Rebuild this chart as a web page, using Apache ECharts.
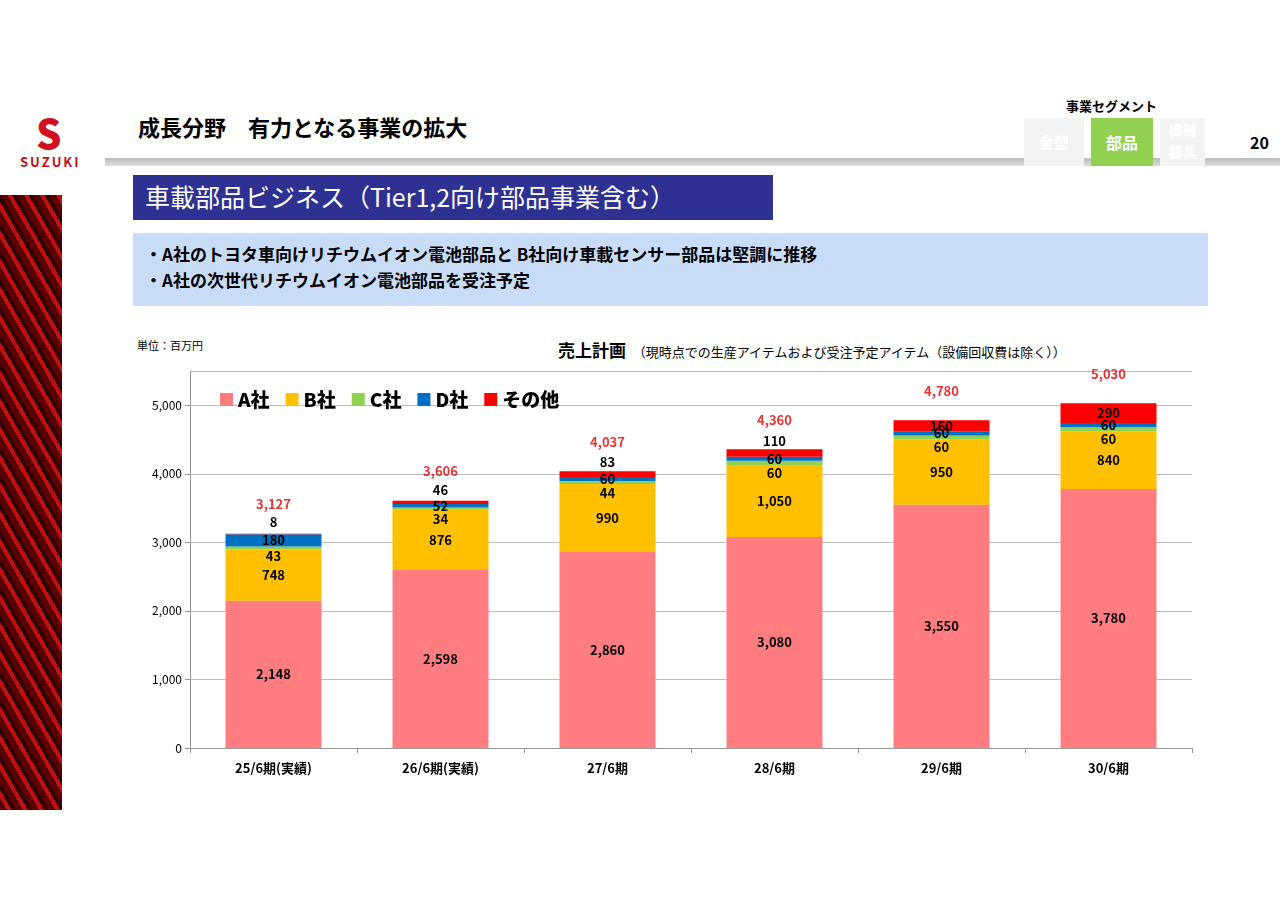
<!DOCTYPE html>
<html><head><meta charset="utf-8">
<script src="https://cdn.jsdelivr.net/npm/echarts@6/dist/echarts.min.js"></script>
<style>
body{margin:0;width:1280px;height:904px;position:relative;background:#fff;font-family:"Noto Sans CJK JP",sans-serif;overflow:hidden}
.a{position:absolute}
</style></head><body>
<div class="a" style="left:0;top:195px;width:62px;height:615px;background:repeating-linear-gradient(60deg,#5a0000 0 6px,#c01010 6px 10px,#300 10px 14px)"></div>
<div class="a" style="left:36px;top:112px;font-size:40px;font-weight:900;color:#d01020;line-height:40px">S</div>
<div class="a" style="left:20px;top:152px;font-size:13px;font-weight:700;color:#c01020;letter-spacing:2px">SUZUKI</div>
<div class="a" style="left:138px;top:110px;font-size:22px;font-weight:700;color:#000">成長分野　有力となる事業の拡大</div>
<div class="a" style="left:105px;top:158px;width:1175px;height:8px;background:linear-gradient(#bbb,#ddd)"></div>
<div class="a" style="left:1066px;top:96px;font-size:13px;font-weight:700">事業セグメント</div>
<div class="a" style="left:1024px;top:118px;width:60px;height:48px;background:#f3f3f3;color:#fff;font-weight:700;font-size:15px;text-align:center;line-height:48px">金型</div>
<div class="a" style="left:1091px;top:118px;width:62px;height:48px;background:#92d050;color:#fff;font-weight:700;font-size:16px;text-align:center;line-height:48px">部品</div>
<div class="a" style="left:1160px;top:118px;width:45px;height:48px;background:#f3f3f3;color:#fff;font-weight:700;font-size:14px;text-align:center;line-height:22px">機械<br>器具</div>
<div class="a" style="left:1250px;top:130px;font-size:16px;font-weight:700">20</div>
<div class="a" style="left:133px;top:175px;width:640px;height:45px;background:#2e3192;color:#fff;font-size:25px;line-height:42px;padding-left:12px;box-sizing:border-box">車載部品ビジネス（Tier1,2向け部品事業含む）</div>
<div class="a" style="left:133px;top:233px;width:1075px;height:73px;background:#c9dcf7;font-size:17px;font-weight:700;line-height:26px;padding:8px 0 0 12px;box-sizing:border-box">・A社のトヨタ車向けリチウムイオン電池部品と B社向け車載センサー部品は堅調に推移<br>・A社の次世代リチウムイオン電池部品を受注予定</div>
<div class="a" style="left:137px;top:337px;font-size:11px">単位：百万円</div>
<div class="a" style="left:558px;top:337px;font-size:17px;font-weight:700">売上計画 <span style="font-size:13px;font-weight:400">&nbsp;（現時点での生産アイテムおよび受注予定アイテム（設備回収費は除く））</span></div>
<div id="c" class="a" style="left:0;top:0;width:1280px;height:904px"></div>
<script>
const categories=["25/6期(実績)","26/6期(実績)","27/6期","28/6期","29/6期","30/6期"];
const seriesNames=["A社","B社","C社","D社","その他"];
const aVals=[2148,2598,2860,3080,3550,3780];
const bVals=[748,876,990,1050,950,840];
const cVals=[43,34,44,60,60,60];
const dVals=[180,52,60,60,60,60];
const otherVals=[8,46,83,110,160,290];
const totals=[3127,3606,4037,4360,4780,5030];
const colors=["#ff7c80","#ffc000","#92d050","#0070c0","#ff0000"];
const vals=[aVals,bVals,cVals,dVals,otherVals];
const offs=[[0,0],[0,0],[0,10],[0,0],[0,-12]];
const fmt=v=>v.toLocaleString('en-US');
const series=vals.map((arr,i)=>({
 name:seriesNames[i],type:'bar',stack:'s',barWidth:96,itemStyle:{color:colors[i]},
 data:arr.map((v,j)=>({value:v,label:{offset:(i===4&&v>=150)?[0,0]:(i===2&&j===0?[0,8]:offs[i])}})),
 label:{show:true,position:'inside',color:'#000',fontWeight:'bold',fontSize:13,formatter:p=>fmt(p.value)}
}));
series.push({type:'scatter',data:totals,symbolSize:0,silent:true,
 label:{show:true,position:'top',offset:[0,-18],color:'#e00000',fontWeight:'bold',fontSize:13,formatter:p=>fmt(p.value)}});
const ch=echarts.init(document.getElementById('c'));
ch.setOption({
 animation:false,
 textStyle:{fontFamily:'Noto Sans CJK JP'},
 grid:{left:190,right:88,top:371,bottom:156,containLabel:false},
 legend:{data:seriesNames,left:215,top:385,itemWidth:13,itemHeight:13,itemGap:16,icon:'rect',
  textStyle:{fontSize:19,fontWeight:900,color:'#000'}},
 xAxis:{type:'category',data:categories,axisLine:{lineStyle:{color:'#999'}},axisTick:{show:true,lineStyle:{color:'#999'}},
  axisLabel:{color:'#000',fontWeight:'bold',fontSize:13,margin:14}},
 yAxis:{type:'value',min:0,max:5500,interval:1000,axisLine:{show:true,lineStyle:{color:'#999'}},axisTick:{show:true,lineStyle:{color:'#999'}},
  axisLabel:{color:'#000',fontSize:12,showMaxLabel:false,formatter:v=>v>5000?'':fmt(v)},splitLine:{lineStyle:{color:'#bbb'}}},
 series
});
</script>
</body></html>
